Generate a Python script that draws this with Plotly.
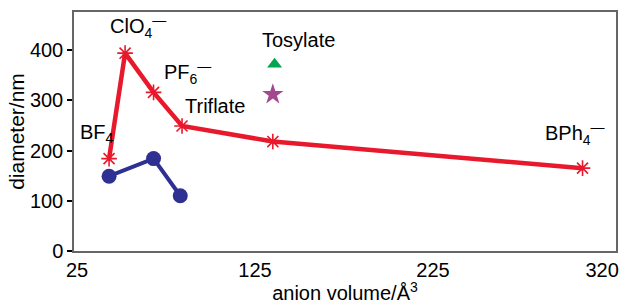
import plotly.graph_objects as go

# Data
red_x = [43, 52, 68, 84, 135, 309]
red_y = [184, 394, 316, 249, 218, 165]
blue_x = [43, 68, 83]
blue_y = [149, 184, 110]
tri_x = [136]
tri_y = [372]
star_x = [135]
star_y = [312]

x_ticks = [25, 125, 225, 320]
y_ticks = [0, 100, 200, 300, 400]

label_text = ["ClO<sub>4</sub><sup>—</sup>", "PF<sub>6</sub><sup>—</sup>", "Triflate",
              "BF<sub>4</sub>", "Tosylate", "BPh<sub>4</sub><sup>—</sup>"]
label_x = [59, 87, 102.7, 36, 149.6, 304.9]
label_y = [447, 356, 289, 234, 421, 234]

FONT = "Liberation Sans, Arial, sans-serif"

fig = go.Figure()
fig.add_trace(go.Scatter(x=blue_x, y=blue_y, mode="lines+markers",
                         line=dict(color="#2e3192", width=4),
                         marker=dict(symbol="circle", size=15, color="#2e3192"),
                         showlegend=False))
fig.add_trace(go.Scatter(x=red_x, y=red_y, mode="lines+markers",
                         line=dict(color="#e8192c", width=4.5),
                         marker=dict(symbol="asterisk-open", size=13,
                                     line=dict(color="#e8192c", width=1.6)),
                         showlegend=False))
fig.add_trace(go.Scatter(x=tri_x, y=tri_y, mode="markers",
                         marker=dict(symbol="triangle-up", size=13, color="#00a651"),
                         showlegend=False))
fig.add_trace(go.Scatter(x=star_x, y=star_y, mode="markers",
                         marker=dict(symbol="star", size=16, color="#a3478f"),
                         showlegend=False))

for t, x, y in zip(label_text, label_x, label_y):
    fig.add_annotation(x=x, y=y, text=t, showarrow=False,
                       font=dict(family=FONT, size=20, color="black"))

fig.update_layout(
    width=626, height=304,
    margin=dict(l=74, r=7, t=12, b=50),
    plot_bgcolor="white", paper_bgcolor="white",
    font=dict(family=FONT, size=20, color="black"),
)
fig.update_xaxes(range=[23.3, 327.8], tickvals=x_ticks, ticktext=[str(v) for v in x_ticks],
                 showgrid=False, zeroline=False, showline=True, mirror=True,
                 linecolor="#666", linewidth=1.5, ticks="", ticklen=0,
                 title=dict(text="anion volume/Å<sup>3</sup>", standoff=2,
                            font=dict(size=20)),
                 tickfont=dict(size=20))
fig.update_yaxes(range=[0, 476], tickvals=y_ticks,
                 showgrid=False, zeroline=False, showline=True, mirror=True,
                 linecolor="#666", linewidth=1.5, ticks="outside", ticklen=5,
                 tickcolor="black", tickwidth=2,
                 title=dict(text="diameter/nm", standoff=0, font=dict(size=21)),
                 tickfont=dict(size=20))

fig.write_html("out.html",
               config={"displayModeBar": False},
               post_script="document.body.style.margin='0';document.body.style.overflow='hidden';")
